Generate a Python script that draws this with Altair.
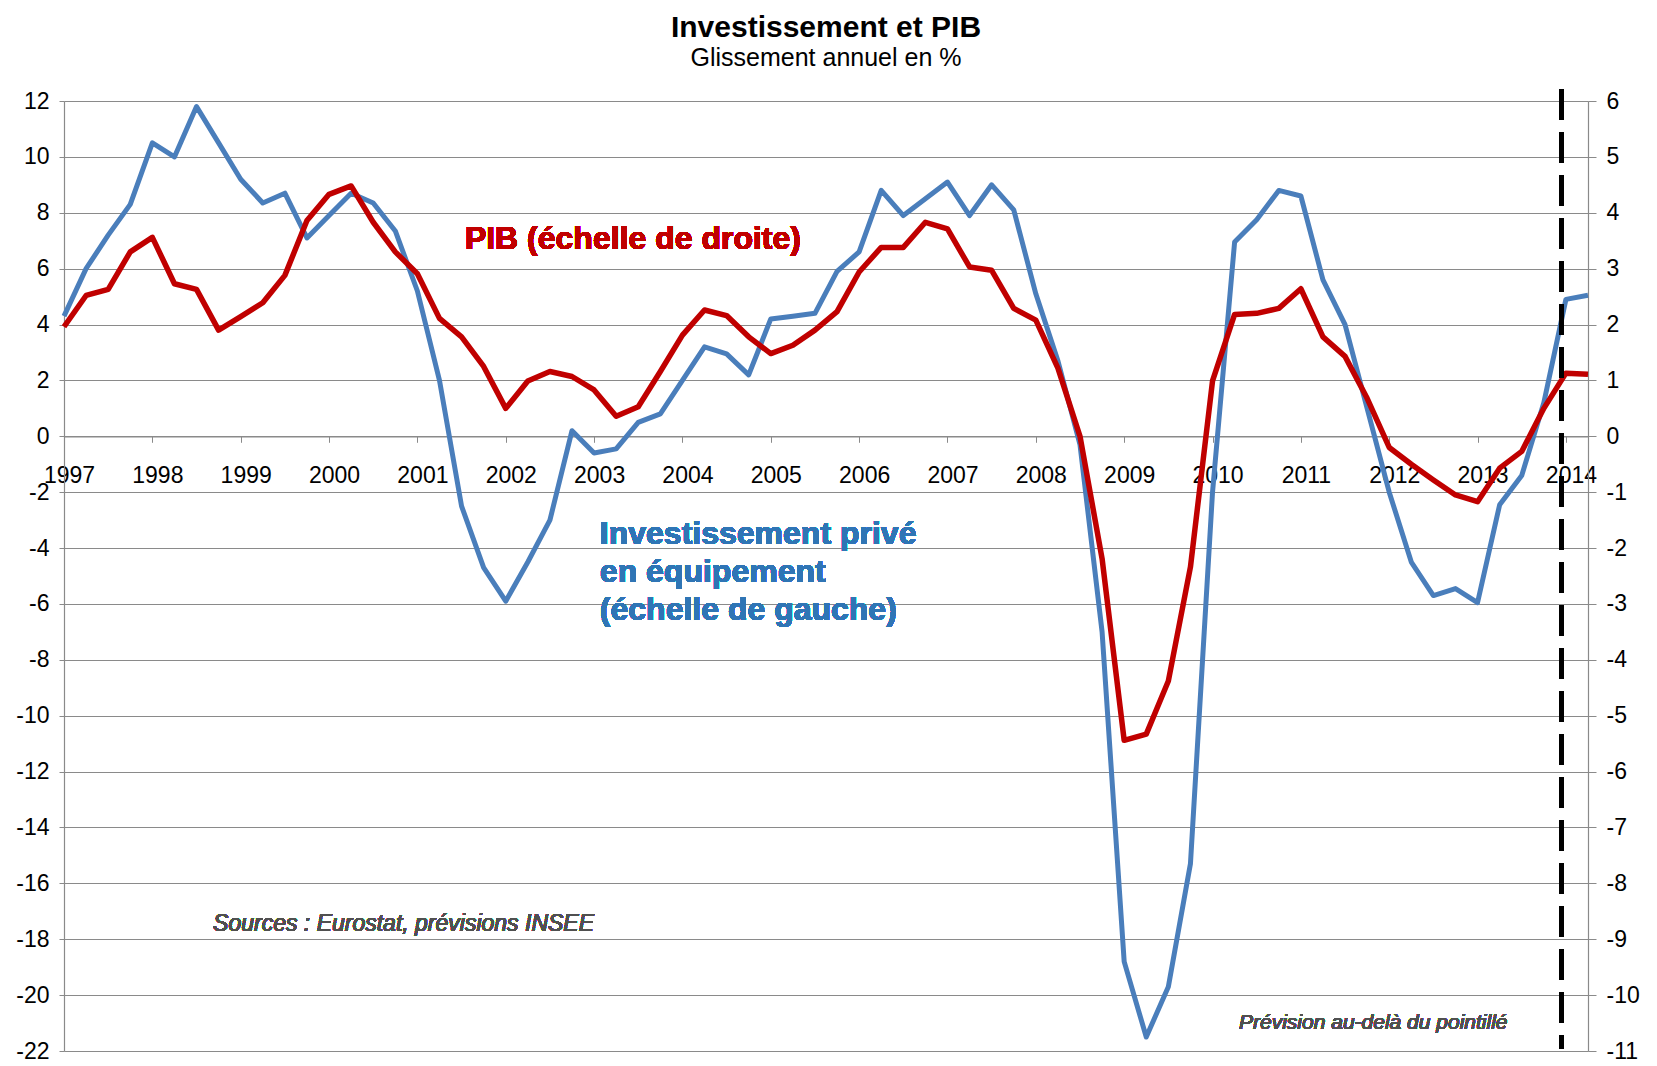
import json
import altair as alt
import pandas as pd

# ---- data (quarterly, 1997T1 .. 2014T2) ----
year_labels = ["1997", "1998", "1999", "2000", "2001", "2002", "2003", "2004", "2005",
               "2006", "2007", "2008", "2009", "2010", "2011", "2012", "2013", "2014"]

# Investissement privé en équipement, glissement annuel en % (échelle de gauche)
inv = [4.3, 6.0, 7.2, 8.3, 10.5, 10.0, 11.8, 10.5, 9.2, 8.35,
       8.7, 7.1, 7.9, 8.7, 8.35, 7.35, 5.2, 2.0, -2.5, -4.7,
       -5.9, -4.5, -3.0, 0.2, -0.6, -0.45, 0.5, 0.8, 2.0, 3.2,
       2.95, 2.2, 4.2, 4.3, 4.4, 5.9, 6.6, 8.8, 7.9, 8.5,
       9.1, 7.9, 9.0, 8.1, 5.1, 2.7, -0.3, -7.0, -18.8, -21.5,
       -19.7, -15.3, -2.0, 6.95, 7.75, 8.8, 8.6, 5.6, 4.0, 1.0,
       -2.0, -4.5, -5.7, -5.45, -5.95, -2.45, -1.4, 1.2, 4.9, 5.05]

# PIB, glissement annuel en % (échelle de droite)
pib = [1.96, 2.52, 2.63, 3.3, 3.56, 2.73, 2.63, 1.9, 2.14, 2.39,
       2.88, 3.86, 4.33, 4.48, 3.83, 3.3, 2.91, 2.11, 1.78, 1.25,
       0.5, 0.99, 1.16, 1.07, 0.83, 0.36, 0.53, 1.16, 1.81, 2.26,
       2.16, 1.78, 1.48, 1.63, 1.9, 2.23, 2.94, 3.38, 3.38, 3.83,
       3.71, 3.03, 2.97, 2.29, 2.08, 1.22, 0.0, -2.19, -5.44, -5.33,
       -4.38, -2.34, 0.99, 2.18, 2.2, 2.29, 2.64, 1.78, 1.43, 0.68,
       -0.2, -0.5, -0.78, -1.05, -1.17, -0.57, -0.27, 0.5, 1.13, 1.11]

quarter_index = list(range(len(inv)))
forecast_start = 67.8  # position of the dashed line (quarter index)

df = pd.DataFrame({"t": quarter_index, "inv": inv, "pib": pib})

W, H = 1524, 950
FONT = "Liberation Sans"
GRID = "#8a8a8a"
BLUE = "#4A7EBB"
RED = "#C00000"
BLUE_TXT = "#2F75B5"
AXIS_FS = 23

x_enc = alt.X(
    "t:Q",
    scale=alt.Scale(domain=[0, 69], nice=False, zero=False),
    axis=alt.Axis(
        values=list(range(0, 69, 4)),
        labelExpr=f"{json.dumps(year_labels)}[datum.value / 4]",
        offset=-(H * 22 / 34),
        grid=False,
        domainColor=GRID,
        domainWidth=1.2,
        tickColor=GRID,
        tickSize=6,
        labelFont=FONT,
        labelFontSize=AXIS_FS,
        labelColor="black",
        labelPadding=22,
        labelOffset=5,
        labelFlush=False,
        labelOverlap=False,
        title=None,
    ),
)

blue_line = alt.Chart(df).mark_line(color=BLUE, strokeWidth=5, strokeJoin="round").encode(
    x=x_enc,
    y=alt.Y(
        "inv:Q",
        scale=alt.Scale(domain=[-22, 12], nice=False, zero=False),
        axis=alt.Axis(
            values=list(range(-22, 13, 2)),
            labelExpr="datum.value + ''",
            grid=True,
            gridColor=GRID,
            gridWidth=1.2,
            domainColor=GRID,
            domainWidth=1.2,
            tickColor=GRID,
            tickSize=5,
            labelFont=FONT,
            labelFontSize=AXIS_FS,
            labelColor="black",
            labelPadding=10,
            title=None,
        ),
    ),
)

pib_text = alt.Chart(df).mark_text(
    text="PIB (échelle de droite)", align="left", baseline="middle",
    font=FONT, fontSize=32, fontWeight="bold", color=RED,
).encode(x=alt.datum(18.15), y=alt.datum(7.07))

inv_text = alt.Chart(df).mark_text(
    text=["Investissement privé", "en équipement", "(échelle de gauche)"],
    align="left", baseline="top", lineHeight=38,
    font=FONT, fontSize=32, fontWeight="bold", color=BLUE_TXT,
).encode(x=alt.datum(24.26), y=alt.datum(-2.95))

src_text = alt.Chart(df).mark_text(
    text="Sources : Eurostat, prévisions INSEE", align="left", baseline="middle",
    font=FONT, fontSize=23, fontStyle="italic", fontWeight="normal", color="#505050",
).encode(x=alt.datum(6.75), y=alt.datum(-17.46))

fc_text = alt.Chart(df).mark_text(
    text="Prévision au-delà du pointillé", align="left", baseline="middle",
    font=FONT, fontSize=21, fontStyle="italic", fontWeight="normal", color="#505050",
).encode(x=alt.datum(53.2), y=alt.datum(-20.99))

left_group = alt.layer(blue_line, pib_text, inv_text, src_text, fc_text)

red_line = alt.Chart(df).mark_line(color=RED, strokeWidth=5.5, strokeJoin="round").encode(
    x="t:Q",
    y=alt.Y(
        "pib:Q",
        scale=alt.Scale(domain=[-11, 6], nice=False, zero=False),
        axis=alt.Axis(
            orient="right",
            values=list(range(-11, 7, 1)),
            labelExpr="datum.value + ''",
            grid=False,
            domainColor=GRID,
            domainWidth=1.2,
            tickColor=GRID,
            tickSize=8,
            labelFont=FONT,
            labelFontSize=AXIS_FS,
            labelColor="black",
            labelPadding=10,
            title=None,
        ),
    ),
)

dashed = alt.Chart(df).mark_rule(
    color="black", strokeWidth=4.5, strokeDash=[30, 13], clip=False
).encode(x=alt.datum(forecast_start), y=alt.datum(6.21), y2=alt.datum(-10.95))

right_group = alt.layer(red_line, dashed)

chart = (
    alt.layer(left_group, right_group)
    .resolve_scale(y="independent")
    .properties(
        width=W,
        height=H,
        padding={"left": 56, "top": 93, "right": 60, "bottom": 12},
        autosize=alt.AutoSizeParams(type="none"),
        title=alt.TitleParams(
            text="Investissement et PIB",
            subtitle="Glissement annuel en %",
            font=FONT,
            fontSize=30,
            fontWeight="bold",
            color="black",
            subtitleFont=FONT,
            subtitleFontSize=25,
            subtitleColor="black",
            subtitlePadding=3,
            anchor="middle",
            frame="group",
            offset=16,
        ),
    )
    .configure_view(stroke=None)
    .configure(background="white")
)

chart.save("out.html", embed_options={"renderer": "svg", "actions": False})
